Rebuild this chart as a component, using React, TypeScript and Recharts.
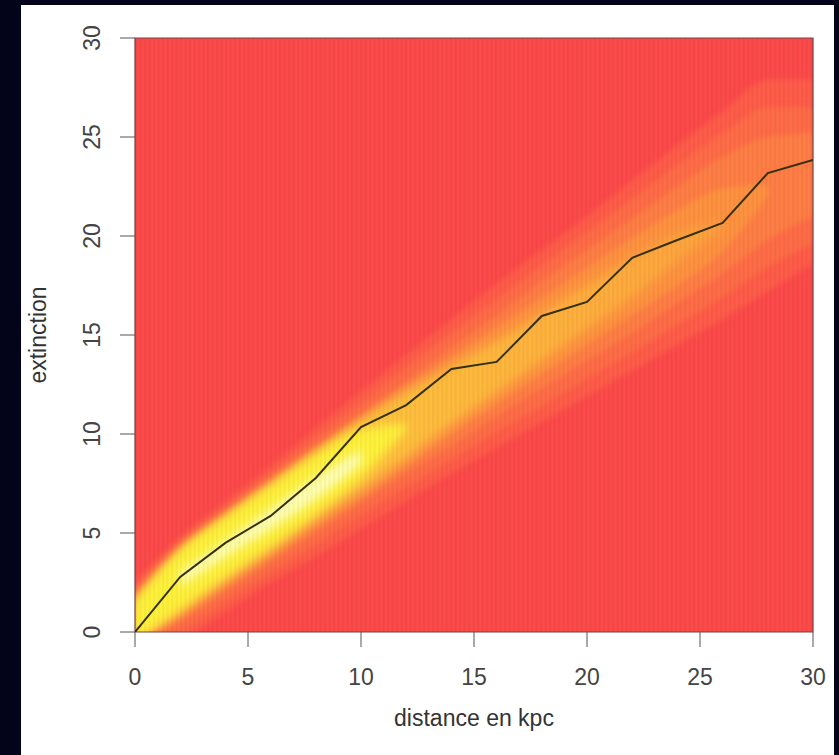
import React from 'react';
import { ComposedChart, Area, Line, XAxis, YAxis, ReferenceArea, CartesianGrid, Label } from 'recharts';

// distance (kpc) sampled every 2
const distance = [0, 2, 4, 6, 8, 10, 12, 14, 16, 18, 20, 22, 24, 26, 28, 30];
// mean extinction curve
const extinction = [0, 2.78, 4.5, 5.86, 7.78, 10.35, 11.46, 13.28, 13.64, 15.96, 16.67, 18.9, 19.8, 20.66, 23.18, 23.84];

// density contour bands [low, high] (outer -> inner)
const bandOuter = [[-1.5, 2.6], [-0.5, 4.8], [1.0, 6.6], [2.5, 8.4], [3.8, 10.3], [5.2, 12.2], [6.6, 14.0], [8.0, 15.8], [9.3, 17.6], [10.6, 19.3], [11.9, 21.0], [13.2, 22.8], [14.5, 24.6], [15.8, 26.3], [17.2, 27.9], [18.6, 27.9]];
const bandMid = [[-1.0, 2.2], [0.0, 4.4], [1.5, 6.2], [3.0, 8.0], [4.4, 9.8], [5.9, 11.6], [7.3, 13.4], [8.7, 15.1], [10.1, 16.8], [11.4, 18.5], [12.8, 20.2], [14.1, 21.9], [15.5, 23.6], [16.9, 25.2], [18.4, 26.5], [19.6, 26.5]];
const bandInner = [[-0.6, 1.9], [0.5, 4.1], [2.0, 5.8], [3.5, 7.6], [5.0, 9.3], [6.5, 11.0], [8.0, 12.7], [9.4, 14.4], [10.9, 16.0], [12.3, 17.7], [13.7, 19.3], [15.1, 20.9], [16.6, 22.5], [18.1, 24.0], [19.8, 25.0], [21.0, 25.2]];
const bandLight = [[-0.4, 1.7], [0.8, 4.0], [2.3, 5.9], [3.8, 7.5], [5.3, 9.2], [6.8, 10.8], [8.4, 12.4], [10.0, 13.9], [11.5, 15.4], [13.0, 16.9], [14.5, 18.4], [16.0, 19.9], [17.5, 21.3], [19.2, 22.4], [22.0, 22.6], null];
const bandCore = [[-0.5, 1.6], [1.0, 4.2], [2.6, 5.9], [4.1, 7.5], [5.7, 9.1], [7.2, 10.7], [8.8, 12.1], [10.5, 13.4], [12.1, 14.7], [13.7, 16.1], [15.3, 17.5], [16.9, 18.9], [18.7, 20.1], [20.4, 20.7], null, null];
const bandYellow = [[-0.3, 1.4], [1.3, 4.0], [2.9, 5.7], [4.4, 7.3], [6.0, 8.9], [7.8, 10.2], [10.2, 10.5], null, null, null, null, null, null, null, null, null];
const bandWhite = [null, [2.3, 3.0], [3.8, 4.6], [5.2, 6.2], [6.7, 7.8], [8.5, 9.2], null, null, null, null, null, null, null, null, null, null];

const xTicks = [0, 5, 10, 15, 20, 25, 30];
const yTicks = [0, 5, 10, 15, 20, 25, 30];

const data = distance.map((d, i) => ({
  d,
  ext: extinction[i],
  outer: bandOuter[i],
  mid: bandMid[i],
  inner: bandInner[i],
  light: bandLight[i],
  core: bandCore[i],
  yellow: bandYellow[i],
  white: bandWhite[i],
}));

const FONT = '"Liberation Sans", Arial, sans-serif';

const YTick = (props: any) => {
  const { x, y, payload } = props;
  return (
    <text x={x} y={y} transform={`rotate(-90, ${x}, ${y})`} textAnchor="middle" fill="#444" fontSize={23} fontFamily={FONT}>
      {payload.value}
    </text>
  );
};

export default function App() {
  return (
    <div style={{ position: 'absolute', left: 0, top: 0, width: 839, height: 755, background: '#03041a' }}>
      <div style={{ position: 'absolute', left: 21, top: 5, width: 813, height: 750, background: '#fff' }} />
      <div style={{ position: 'absolute', left: 0, top: 0 }}>
        <ComposedChart width={839} height={755} data={data} margin={{ top: 38, right: 26, bottom: 0, left: 21 }}>
          <defs>
            <filter id="soft" x="-20%" y="-20%" width="140%" height="140%">
              <feGaussianBlur stdDeviation="2.5" />
            </filter>
            <filter id="softer" x="-30%" y="-30%" width="160%" height="160%">
              <feGaussianBlur stdDeviation="5" />
            </filter>
            <linearGradient id="coreFill" x1="0" y1="0" x2="1" y2="0">
              <stop offset="0%" stopColor="#ffe23c" />
              <stop offset="45%" stopColor="#ffc03c" />
              <stop offset="100%" stopColor="#ffa23c" />
            </linearGradient>
            <pattern id="stripes" width="4.5" height="10" patternUnits="userSpaceOnUse">
              <rect width="2.2" height="10" fill="#000" fillOpacity="0.04" />
            </pattern>
          </defs>
          <CartesianGrid horizontal={false} vertical={false} fill="#fd4a4a" fillOpacity={1} />
          <XAxis
            dataKey="d"
            type="number"
            domain={[0, 30]}
            ticks={xTicks}
            allowDataOverflow
            height={123}
            tickSize={15}
            tickMargin={22}
            axisLine={false}
            tickLine={{ stroke: '#555' }}
            tick={{ fill: '#444', fontSize: 23, fontFamily: FONT }}
          >
            <Label
              content={(p: any) => {
                const vb = p.viewBox;
                return (
                  <text x={vb.x + vb.width / 2} y={vb.y + 86} textAnchor="middle" dominantBaseline="central" fill="#333" fontSize={23} fontFamily={FONT}>
                    distance en kpc
                  </text>
                );
              }}
            />
          </XAxis>
          <YAxis
            type="number"
            domain={[0, 30]}
            ticks={yTicks}
            allowDataOverflow
            width={114}
            tickSize={15}
            tickMargin={20}
            axisLine={false}
            tickLine={{ stroke: '#555' }}
            tick={<YTick />}
          >
            <Label
              content={(p: any) => {
                const vb = p.viewBox;
                const cx = vb.x + 17;
                const cy = vb.y + vb.height / 2;
                return (
                  <text x={cx} y={cy} transform={`rotate(-90, ${cx}, ${cy})`} textAnchor="middle" dominantBaseline="central" fill="#333" fontSize={23} fontFamily={FONT}>
                    extinction
                  </text>
                );
              }}
            />
          </YAxis>
          <Area dataKey="outer" type="monotone" stroke="none" fill="#ff5c48" fillOpacity={1} filter="url(#soft)" isAnimationActive={false} />
          <Area dataKey="mid" type="monotone" stroke="none" fill="#ff6c46" fillOpacity={1} filter="url(#soft)" isAnimationActive={false} />
          <Area dataKey="inner" type="monotone" stroke="none" fill="#ff7e44" fillOpacity={1} filter="url(#soft)" isAnimationActive={false} />
          <Area dataKey="light" type="monotone" stroke="none" fill="#ff9240" fillOpacity={1} filter="url(#soft)" isAnimationActive={false} />
          <Area dataKey="core" type="monotone" stroke="none" fill="url(#coreFill)" fillOpacity={1} filter="url(#softer)" isAnimationActive={false} />
          <Area dataKey="yellow" type="monotone" stroke="none" fill="#fff23a" fillOpacity={1} filter="url(#softer)" isAnimationActive={false} />
          <Area dataKey="white" type="monotone" stroke="none" fill="#ffffb4" fillOpacity={1} filter="url(#softer)" isAnimationActive={false} />
          <ReferenceArea x1={0} x2={30} y1={0} y2={30} fill="url(#stripes)" fillOpacity={1} stroke="#7a4040" strokeWidth={1.2} />
          <Line dataKey="ext" type="linear" stroke="#35300e" strokeWidth={2} dot={false} activeDot={false} isAnimationActive={false} />
        </ComposedChart>
      </div>
    </div>
  );
}
